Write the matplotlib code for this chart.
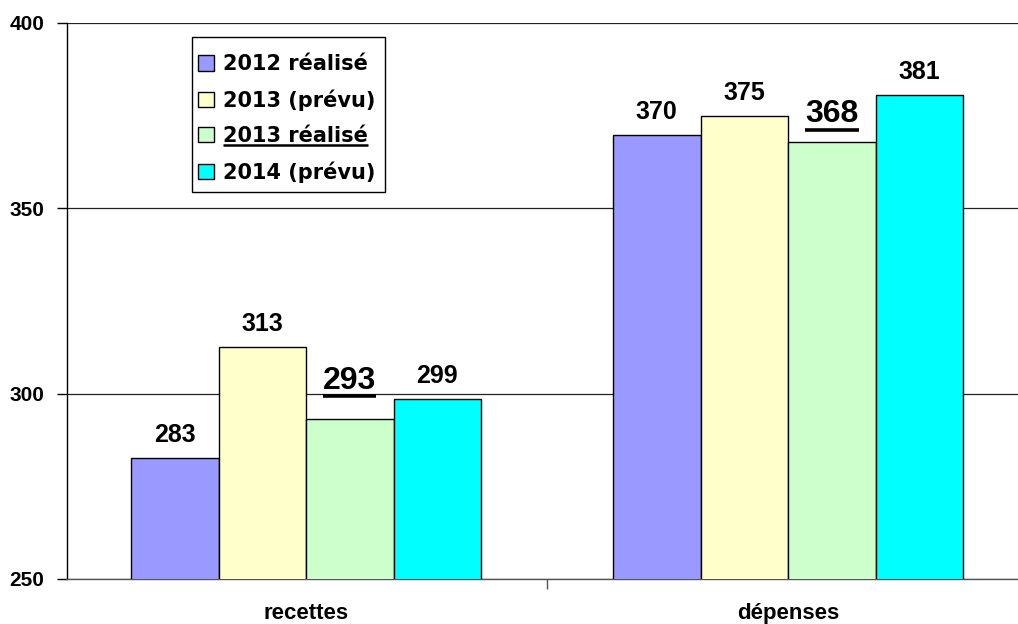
import matplotlib
matplotlib.use("Agg")
import matplotlib.pyplot as plt
from matplotlib.lines import Line2D
from matplotlib.patches import Rectangle
import numpy as np

plt.rcParams["font.family"] = ["Liberation Sans", "DejaVu Sans"]
plt.rcParams["font.weight"] = "bold"

categories = ["recettes", "dépenses"]
series_names = ["2012 réalisé", "2013 (prévu)", "2013 réalisé", "2014 (prévu)"]
values_2012_realise = [282.6, 369.8]
values_2013_prevu = [312.7, 374.8]
values_2013_realise = [293.2, 367.8]
values_2014_prevu = [298.6, 380.6]
series_values = [values_2012_realise, values_2013_prevu,
                 values_2013_realise, values_2014_prevu]
colors = ["#9999FF", "#FFFFCC", "#CCFFCC", "#00FFFF"]
underlined = [False, False, True, False]
y_ticks = [250, 300, 350, 400]

W, H = 1018, 624
fig = plt.figure(figsize=(W / 100, H / 100), dpi=100)
ax = fig.add_axes([66.5 / W, 45 / H, (W - 66.5) / W, 556 / H])

x = np.arange(len(categories))
bw = 0.1815
offsets = (np.arange(len(series_names)) - 1.5) * bw

bar_sets = []
for i, (name, vals, col) in enumerate(zip(series_names, series_values, colors)):
    bars = ax.bar(x + offsets[i], vals, width=bw, bottom=0, color=col,
                  edgecolor="black", linewidth=1.0, label=name, zorder=3)
    bar_sets.append(bars)

ax.set_yticks(y_ticks)
ax.set_yticklabels([str(v) for v in y_ticks])
ax.tick_params(axis="y", length=7, width=1, pad=9, direction="out",
               labelsize=15)
ax.yaxis.grid(True, color="#222222", linewidth=0.9, zorder=0)
ax.set_axisbelow(True)

ax.set_xticks(x)
ax.set_xticklabels(categories)
ax.set_xticks([-0.5, 0.5], minor=True)
ax.tick_params(axis="x", which="major", length=0, pad=17, labelsize=16)
ax.tick_params(axis="x", which="minor", length=7, width=1, color="#555555")

ax.set_ylim(250, 400)
ax.set_xlim(-0.497, 1.477)

for s in ["top", "right"]:
    ax.spines[s].set_visible(False)
ax.spines["left"].set_color("black")
ax.spines["left"].set_linewidth(1.0)
ax.spines["bottom"].set_color("#555555")
ax.spines["bottom"].set_linewidth(1.0)

# value labels above bars; the underlined ones are larger and sit higher
big_label_gap = {0: 30, 1: 20}
value_texts = []
for i, bars in enumerate(bar_sets):
    for j, (b, v) in enumerate(zip(bars, series_values[i])):
        cx = b.get_x() + b.get_width() / 2
        if underlined[i]:
            t = ax.annotate(f"{v:.0f}", (cx, v),
                            xytext=(0, big_label_gap[j]),
                            textcoords="offset pixels",
                            ha="center", va="baseline", fontsize=23,
                            fontweight="bold", zorder=5)
            value_texts.append(t)
        else:
            ax.annotate(f"{v:.0f}", (cx, v),
                        xytext=(0, 16), textcoords="offset pixels",
                        ha="center", va="baseline", fontsize=18,
                        fontweight="bold", zorder=5)

# legend box: a plain white frame with the entries placed inside it
box = Rectangle((192 / W, 1 - 192 / H), (385 - 192) / W, (192 - 37) / H,
                transform=fig.transFigure, facecolor="white",
                edgecolor="black", linewidth=1.0, zorder=4.9, clip_on=False)
ax.add_patch(box)

leg = ax.legend(loc="upper left", bbox_to_anchor=(198 / W, 1 - 54 / H),
                bbox_transform=fig.transFigure,
                prop={"family": "DejaVu Sans", "weight": "bold", "size": 15},
                frameon=False, handlelength=0.77, handleheight=0.77,
                handletextpad=0.45, labelspacing=0.73, borderpad=0,
                borderaxespad=0)
leg.set_zorder(5)

fig.canvas.draw()
renderer = fig.canvas.get_renderer()


def underline(text, gap_px, lw, descent=0.21):
    bb = text.get_window_extent(renderer)
    # baseline sits above the descent part of the box
    fs = text.get_fontsize() * 100 / 72
    base = bb.y0 + descent * fs
    y = base - gap_px
    line = Line2D([bb.x0 / W, bb.x1 / W], [y / H, y / H],
                  transform=fig.transFigure, color="black", linewidth=lw,
                  solid_capstyle="butt", zorder=10)
    fig.add_artist(line)


for t in value_texts:
    underline(t, 7, 2.6)
for i, t in enumerate(leg.get_texts()):
    if underlined[i]:
        underline(t, 4, 1.8, descent=0.24)

fig.savefig("out.png", dpi=100)
